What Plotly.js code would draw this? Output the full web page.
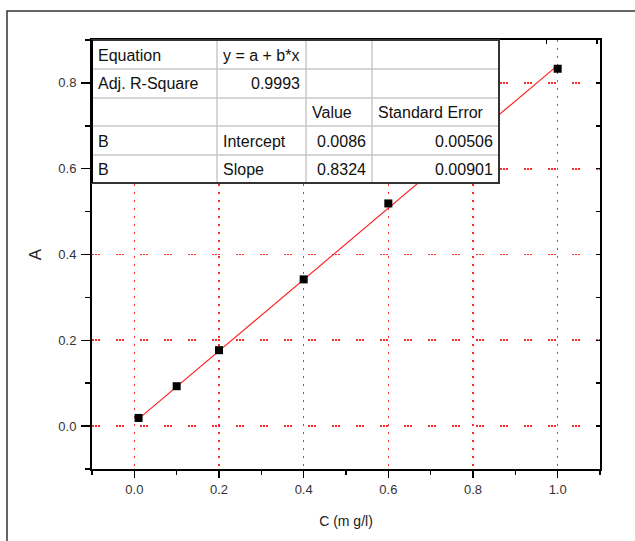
<!DOCTYPE html>
<html>
<head>
<meta charset="utf-8">
<script src="https://cdn.plot.ly/plotly-3.0.1.min.js"></script>
<style>
  html, body { margin: 0; padding: 0; background: #fff; }
  #chart { width: 635px; height: 541px; }
</style>
</head>
<body>
<div id="chart"></div>
<script>
// ---- data ----
var concentration = [0.01, 0.1, 0.2, 0.4, 0.6, 1.0];
var absorbance    = [0.019, 0.093, 0.177, 0.342, 0.519, 0.833];
var fitX = [0.01, 1.0];
var fitY = [0.017, 0.841];

var xTickVals = [0.0, 0.2, 0.4, 0.6, 0.8, 1.0];
var yTickVals = [0.0, 0.2, 0.4, 0.6, 0.8];

// fit-report table
var tableCol1 = ["Equation", "Adj. R-Square", "", "B", "B"];
var tableCol2 = ["y = a + b*x", "0.9993", "", "Intercept", "Slope"];
var tableCol3 = ["", "", "Value", "0.0086", "0.8324"];
var tableCol4 = ["", "", "Standard Error", "0.00506", "0.00901"];

// ---- layout geometry (pixels) ----
var W = 635, H = 541;
var M = { l: 92, r: 35, t: 40, b: 72 };
var PW = W - M.l - M.r, PH = H - M.t - M.b;
function px2x(px) { return (px - M.l) / PW; }
function py2y(py) { return (H - M.b - py) / PH; }

var colEdges = [92, 217, 306, 372, 499];
var rowEdges = [40, 69, 98, 126, 155, 183];
var colAlign = [
  ["left", "left", "left", "left", "left"],
  ["left", "right", "left", "left", "left"],
  ["left", "left", "left", "right", "right"],
  ["left", "left", "left", "right", "right"]
];
var tableCols = [tableCol1, tableCol2, tableCol3, tableCol4];

var shapes = [];
var annotations = [];

// outer frame
shapes.push({
  type: "rect", xref: "paper", yref: "paper", layer: "below",
  x0: px2x(7), x1: px2x(700), y0: py2y(600), y1: py2y(11),
  line: { color: "#333", width: 1.5 }, fillcolor: "rgba(0,0,0,0)"
});

// table background
shapes.push({
  type: "rect", xref: "paper", yref: "paper", layer: "above",
  x0: px2x(colEdges[0]), x1: px2x(colEdges[colEdges.length - 1]),
  y0: py2y(rowEdges[rowEdges.length - 1]), y1: py2y(rowEdges[0]),
  line: { width: 0 }, fillcolor: "#ffffff"
});
// inner lines
for (var i = 1; i < colEdges.length - 1; i++) {
  shapes.push({
    type: "line", xref: "paper", yref: "paper", layer: "above",
    x0: px2x(colEdges[i]), x1: px2x(colEdges[i]),
    y0: py2y(rowEdges[0]), y1: py2y(rowEdges[rowEdges.length - 1]),
    line: { color: "#c8c8c8", width: 1.5 }
  });
}
for (var j = 1; j < rowEdges.length - 1; j++) {
  shapes.push({
    type: "line", xref: "paper", yref: "paper", layer: "above",
    x0: px2x(colEdges[0]), x1: px2x(colEdges[colEdges.length - 1]),
    y0: py2y(rowEdges[j]), y1: py2y(rowEdges[j]),
    line: { color: "#c8c8c8", width: 1.5 }
  });
}
// outer border of table
shapes.push({
  type: "rect", xref: "paper", yref: "paper", layer: "above",
  x0: px2x(colEdges[0]), x1: px2x(colEdges[colEdges.length - 1]),
  y0: py2y(rowEdges[rowEdges.length - 1]), y1: py2y(rowEdges[0]),
  line: { color: "#333", width: 2 }, fillcolor: "rgba(0,0,0,0)"
});
// left edge of the table is the thick y axis line
shapes.push({
  type: "line", xref: "paper", yref: "paper", layer: "above",
  x0: 0, x1: 0, y0: py2y(rowEdges[rowEdges.length - 1]), y1: 1,
  line: { color: "#000", width: 2 }
});

for (var c = 0; c < tableCols.length; c++) {
  for (var r = 0; r < tableCols[c].length; r++) {
    var txt = tableCols[c][r];
    if (!txt) continue;
    var al = colAlign[c][r];
    var xpx = al === "left" ? colEdges[c] + 4 : colEdges[c + 1] - 4;
    var ypx = (rowEdges[r] + rowEdges[r + 1]) / 2 + 0.5;
    annotations.push({
      xref: "paper", yref: "paper", x: px2x(xpx), y: py2y(ypx),
      xanchor: al, yanchor: "middle", showarrow: false, text: txt,
      font: { family: "Liberation Sans, Arial, sans-serif", size: 16, color: "#111" }
    });
  }
}

var traces = [
  {
    x: fitX, y: fitY, type: "scatter", mode: "lines",
    line: { color: "#ff1a1a", width: 1.1 }, hoverinfo: "skip", showlegend: false
  },
  {
    x: concentration, y: absorbance, type: "scatter", mode: "markers",
    marker: { symbol: "square", size: 8, color: "#000" }, hoverinfo: "skip", showlegend: false
  },
  { x: [null], y: [null], xaxis: "x2", yaxis: "y2", type: "scatter", mode: "markers", hoverinfo: "skip", showlegend: false }
];

var tickFont = { family: "Liberation Sans, Arial, sans-serif", size: 13, color: "#333" };

var layout = {
  width: W, height: H,
  margin: M,
  paper_bgcolor: "#fff", plot_bgcolor: "#fff",
  showlegend: false,
  xaxis: {
    range: [-0.1, 1.1], tickvals: xTickVals, tickformat: ".1f",
    ticks: "outside", ticklen: 7, tickwidth: 1.5, tickcolor: "#000",
    minor: { dtick: 0.1, tick0: 0, ticks: "outside", ticklen: 4, tickwidth: 1.5, tickcolor: "#000", showgrid: false },
    showline: true, linewidth: 2, linecolor: "#000",
    showgrid: true, gridcolor: "#ff2a2a", gridwidth: 1.5, griddash: "2px,6px",
    zeroline: false, tickfont: tickFont,
    title: { text: "C (m g/l)", font: { family: "Liberation Sans, Arial, sans-serif", size: 14, color: "#222" }, standoff: 21 }
  },
  yaxis: {
    range: [-0.1, 0.9], tickvals: yTickVals, tickformat: ".1f",
    ticks: "outside", ticklen: 9, tickwidth: 1.5, tickcolor: "#000",
    minor: { dtick: 0.1, tick0: 0, ticks: "outside", ticklen: 5, tickwidth: 1.5, tickcolor: "#000", showgrid: false },
    showline: true, linewidth: 2, linecolor: "#000",
    showgrid: true, gridcolor: "#ff2a2a", gridwidth: 1.6, griddash: "1.5px,1.5px,1.5px,1.5px,1.5px,16.5px",
    zeroline: false, tickfont: tickFont, ticklabelstandoff: 2,
    title: { text: "A", font: { family: "Liberation Sans, Arial, sans-serif", size: 17, color: "#222" }, standoff: 12 }
  },
  xaxis2: {
    overlaying: "x", side: "top", anchor: "y", range: [0, 10.06], dtick: 1,
    ticks: "inside", ticklen: 4, tickwidth: 1.5, tickcolor: "#000",
    showticklabels: false, showline: true, linewidth: 2, linecolor: "#000",
    showgrid: false, zeroline: false
  },
  yaxis2: {
    overlaying: "y", side: "right", anchor: "x", range: [-0.1, 0.9], dtick: 0.1,
    ticks: "inside", ticklen: 4, tickwidth: 1.5, tickcolor: "#000",
    showticklabels: false, showline: true, linewidth: 2, linecolor: "#000",
    showgrid: false, zeroline: false
  },
  shapes: shapes,
  annotations: annotations
};

Plotly.newPlot("chart", traces, layout, { staticPlot: true, displayModeBar: false });
</script>
</body>
</html>
